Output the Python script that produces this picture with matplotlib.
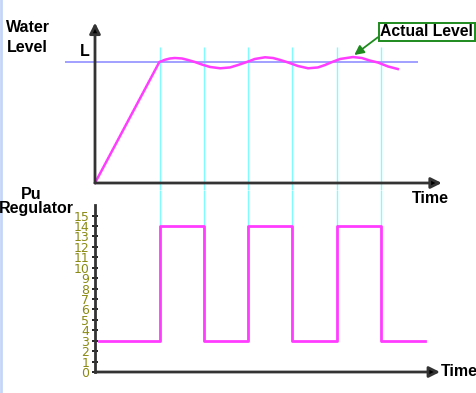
""" Water level vs pump regulator switching
    Two stacked panels drawn on a shared time scale
    """

import matplotlib
matplotlib.use('Agg')
import matplotlib.pyplot as plt
from matplotlib.lines import Line2D

# top panel: set level and measured level (level 1.0 = L)
SET_LEVEL = 1.0
LEVEL_T = [0.0, 1.45, 1.58, 1.69, 1.80, 1.96, 2.09, 2.25, 2.41, 2.59, 2.82,
           3.04, 3.22, 3.42, 3.60, 3.83, 4.01, 4.17, 4.35, 4.57, 4.80,
           5.02, 5.18, 5.34, 5.52, 5.81, 6.01, 6.19, 6.37, 6.60, 6.82]
LEVEL_V = [0.0, 1.0, 1.019, 1.029, 1.033, 1.029, 1.017, 1.0, 0.979, 0.959,
           0.948, 0.955, 0.975, 1.0, 1.025, 1.039, 1.033, 1.017, 0.996, 0.967,
           0.948, 0.955, 0.975, 1.0, 1.025, 1.041, 1.033, 1.012, 0.996, 0.963,
           0.942]

# regulator switching instants and pulse levels
SWITCH_T = [1.46, 2.46, 3.45, 4.44, 5.44, 6.45]
PULSE_T = [0.10, 1.46, 2.46, 3.45, 4.44, 5.44, 6.45, 7.43]
PULSE_V = [3, 14, 3, 14, 3, 14, 3, 3]
REG_TICKS = list(range(16))

PX_PER_T = 44.4
MAGENTA = '#ff3cff'
CYAN = '#7ffcff'
AXIS = '#333333'
OLIVE = '#8a8a14'


def arrow_axis(axes, start, end, head=True):
    """Draw an axis line, optionally with an arrow head"""
    style = '-|>' if head else '-'
    axes.annotate('', xy=end, xytext=start,
                  arrowprops=dict(arrowstyle=style, color=AXIS, lw=2,
                                  mutation_scale=16, shrinkA=0, shrinkB=0,
                                  fc='black'))


def main():
    """Plot the graph"""
    fig = plt.figure(figsize=(4.77, 3.93), dpi=100)
    bold = dict(fontweight='bold', family=['Liberation Sans', 'DejaVu Sans'])

    # top panel
    top = fig.add_axes([0, 203 / 393, 1, 190 / 393])
    top.set_xlim(-95 / PX_PER_T, 382 / PX_PER_T)
    top.set_ylim(-7 / 121, 183 / 121)
    top.axis('off')
    top.vlines(SWITCH_T, -7 / 121, 1.126, color=CYAN, lw=1)
    top.hlines(SET_LEVEL, -0.68, 7.28, color='#9a9aff', lw=1.3)
    top.plot(LEVEL_T, LEVEL_V, color=MAGENTA, lw=1.8)
    arrow_axis(top, (0, 0), (7.81, 0))
    arrow_axis(top, (0, 0), (0, 1.325))
    top.text(-0.22, 1.085, 'L', ha='center', va='center', fontsize=11.5,
             **bold)
    top.text(7.56, -0.125, 'Time', ha='center', va='center', fontsize=11.5,
             **bold)
    top.annotate('Actual Level', xy=(5.84, 1.058), xytext=(7.47, 1.25),
                 ha='center', va='center', fontsize=11.3, **bold,
                 bbox=dict(boxstyle='square,pad=0.1', fc='white',
                           ec='#1e8a1e', lw=1.4),
                 arrowprops=dict(arrowstyle='-|>', color='#1e8a1e', lw=1.3,
                                 mutation_scale=14, relpos=(0, 0.25),
                                 shrinkA=0, shrinkB=0))

    # bottom panel
    bot = fig.add_axes([0, 0, 1, 203 / 393])
    bot.set_xlim(-95 / PX_PER_T, 382 / PX_PER_T)
    bot.set_ylim(-21 / 10.43, 182 / 10.43)
    bot.patch.set_visible(False)
    for side in ['top', 'right', 'bottom']:
        bot.spines[side].set_visible(False)
    bot.spines['left'].set_position(('data', 0))
    bot.spines['left'].set_bounds(0, 16)
    bot.spines['left'].set_color(AXIS)
    bot.spines['left'].set_linewidth(2)
    bot.set_xticks([])
    bot.set_yticks(REG_TICKS)
    bot.set_yticklabels([str(v) for v in REG_TICKS])
    bot.tick_params(axis='y', direction='inout', length=5, width=1.2,
                    color='black', pad=1.5, labelsize=9, labelcolor=OLIVE)
    for label in bot.get_yticklabels():
        label.set_family(['Liberation Sans Narrow', 'DejaVu Sans'])
    bot.vlines(SWITCH_T, 14, 182 / 10.43, color=CYAN, lw=1)
    bot.step(PULSE_T, PULSE_V, where='post', color=MAGENTA, lw=2)
    arrow_axis(bot, (0, 0), (7.77, 0))
    bot.text(7.78, 0, 'Time', ha='left', va='center', fontsize=11.5, **bold)

    # side labels
    fig.text(6 / 477, 1 - 28 / 393, 'Water', ha='left', va='center',
             fontsize=11.5, **bold)
    fig.text(7 / 477, 1 - 48 / 393, 'Level', ha='left', va='center',
             fontsize=11.5, **bold)
    fig.text(31 / 477, 1 - 194 / 393, 'Pu', ha='center', va='center',
             fontsize=11.5, **bold)
    fig.text(36 / 477, 1 - 209 / 393, 'Regulator', ha='center', va='center',
             fontsize=11.5, **bold)

    # pale border on the left edge
    fig.add_artist(Line2D([1 / 477, 1 / 477], [0, 1], color='#c4d6f8', lw=2,
                          transform=fig.transFigure))

    fig.savefig('out.png', dpi=100)


main()
